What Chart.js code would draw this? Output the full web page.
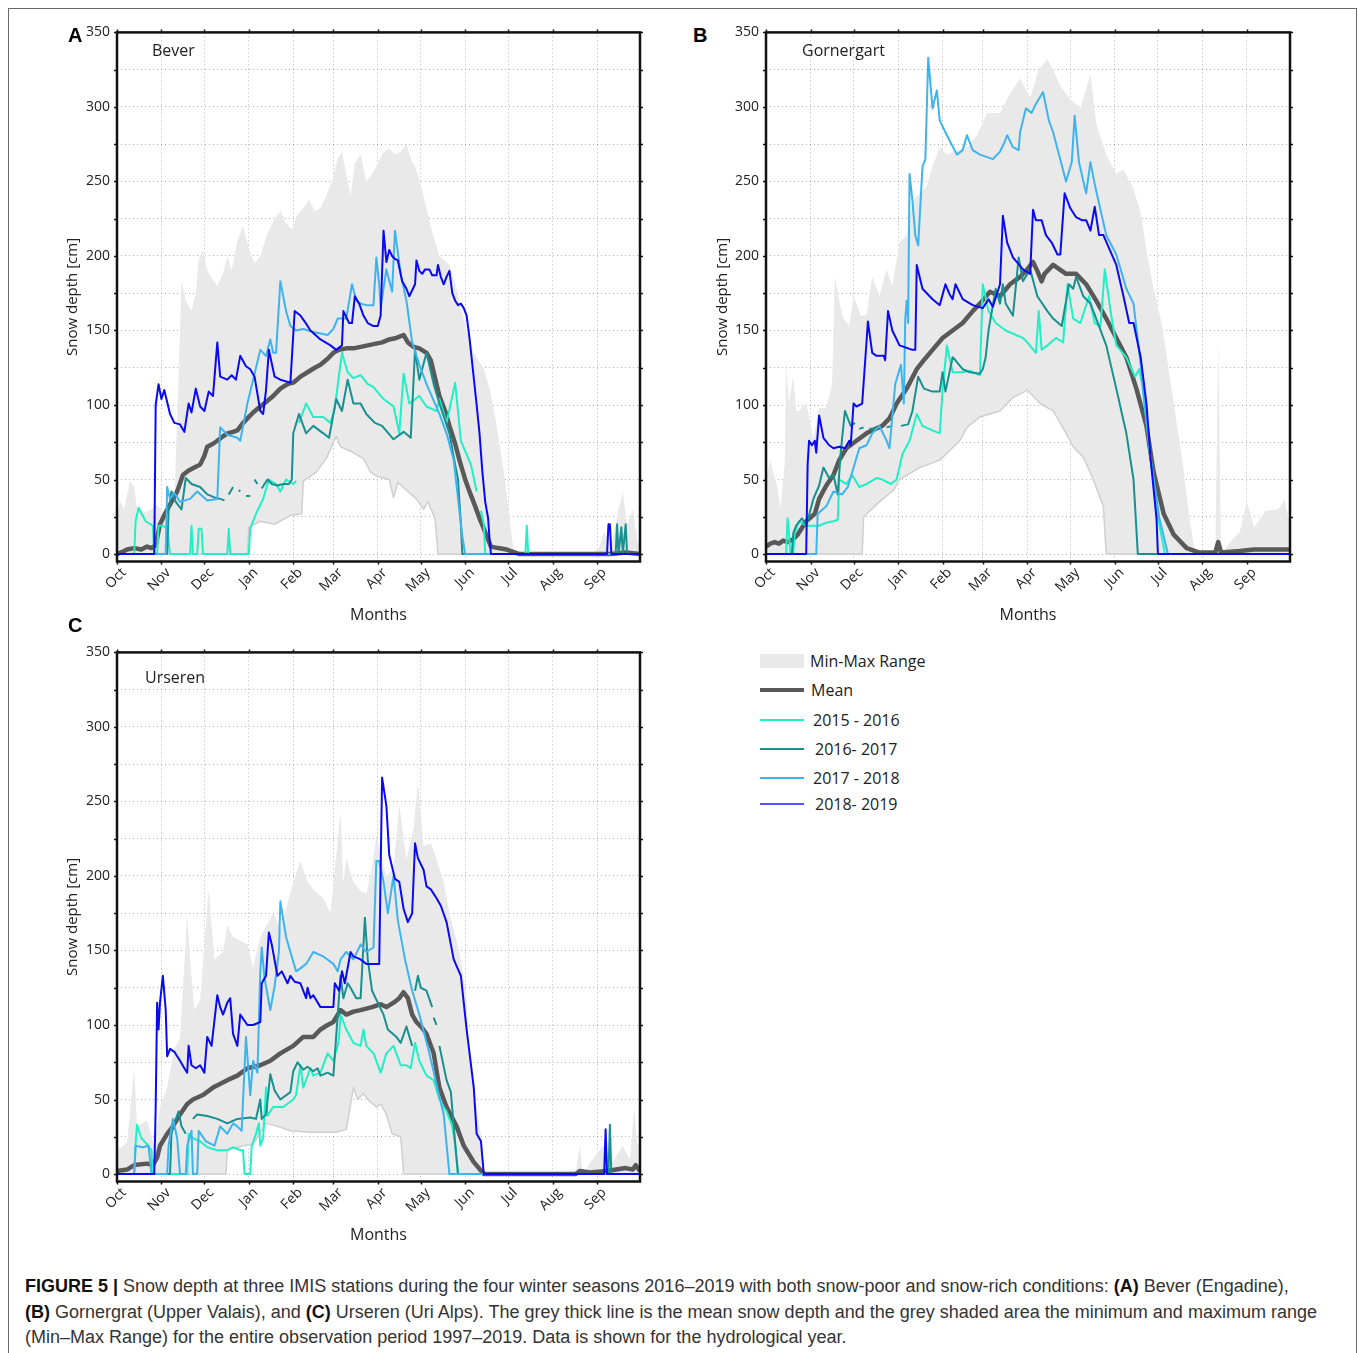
<!DOCTYPE html>
<html lang="en">
<head>
<meta charset="UTF-8">
<title>Snow depth at three IMIS stations</title>
<style>
  body { margin: 0; background: #fff; }
  #page { position: relative; width: 1358px; height: 1353px; overflow: hidden; font-family: "Open Sans", sans-serif; color: #222; }
  .frame { position: absolute; left: 8px; top: 8px; width: 1347px; height: 1370px; border: 1px solid #6a6a6a; }
  .panel { position: absolute; width: 600px; height: 613px; }
  .letter { position: absolute; font: bold 20px "Liberation Sans", Arial, sans-serif; color: #000; }
  .station { position: absolute; font-size: 16px; color: #222; }
  .legend { position: absolute; left: 760px; top: 648px; font-size: 16px; }
  .legend div { position: relative; height: 29px; }
  .legend span.sw { position: absolute; left: 0; width: 44px; }
  .legend span.tx { position: absolute; top: 2px; white-space: nowrap; }
  .caption { position: absolute; left: 25px; top: 1274px; font: 18px "Liberation Sans Narrow", "Arial Narrow", sans-serif; line-height: 25.5px; color: #333; white-space: nowrap; }
  .caption b { color: #111; }
</style>
</head>
<body>
<div id="page">
  <div class="frame"></div>

  <div class="panel" style="left:60px; top:17px;"><canvas id="chartA" width="600" height="613"></canvas></div>
  <div class="panel" style="left:710px; top:17px;"><canvas id="chartB" width="600" height="613"></canvas></div>
  <div class="panel" style="left:60px; top:637px;"><canvas id="chartC" width="600" height="613"></canvas></div>

  <div class="letter" style="left:68px; top:24px;">A</div>
  <div class="letter" style="left:693px; top:24px;">B</div>
  <div class="letter" style="left:68px; top:614px;">C</div>

  <div class="station" style="left:152px; top:39px;">Bever</div>
  <div class="station" style="left:802px; top:39px;">Gornergart</div>
  <div class="station" style="left:145px; top:666px;">Urseren</div>

  <div class="legend">
    <div><span class="sw" style="top:6px; height:14px; background:#e9e9e9;"></span><span class="tx" style="left:50px;">Min-Max Range</span></div>
    <div><span class="sw" style="top:11px; height:4px; background:#595959;"></span><span class="tx" style="left:51px;">Mean</span></div>
    <div style="top:1px;"><span class="sw" style="top:12px; height:2px; background:#1ff0c6;"></span><span class="tx" style="left:53px;">2015 - 2016</span></div>
    <div style="top:1px;"><span class="sw" style="top:12px; height:2px; background:#17908f;"></span><span class="tx" style="left:55px;">2016- 2017</span></div>
    <div style="top:1px;"><span class="sw" style="top:12px; height:2px; background:#3fb3ee;"></span><span class="tx" style="left:53px;">2017 - 2018</span></div>
    <div style="top:-2px;"><span class="sw" style="top:12px; height:2px; background:#5555ff;"></span><span class="tx" style="left:55px;">2018- 2019</span></div>
  </div>

  <div class="caption">
    <b>FIGURE 5 |</b> Snow depth at three IMIS stations during the four winter seasons 2016–2019 with both snow-poor and snow-rich conditions: <b>(A)</b> Bever (Engadine),<br>
    <b>(B)</b> Gornergrat (Upper Valais), and <b>(C)</b> Urseren (Uri Alps). The grey thick line is the mean snow depth and the grey shaded area the minimum and maximum range<br>
    (Min–Max Range) for the entire observation period 1997–2019. Data is shown for the hydrological year.
  </div>
</div>

<script src="https://cdn.jsdelivr.net/npm/chart.js"></script>
<script>
// x = day of the hydrological year (0 = 1 Oct), y = snow depth in cm
const monthDays = [0, 31, 61, 92, 123, 151, 182, 212, 243, 273, 304, 335];
const monthLabels = ['Oct', 'Nov', 'Dec', 'Jan', 'Feb', 'Mar', 'Apr', 'May', 'Jun', 'Jul', 'Aug', 'Sep'];
const depthTicks = [0, 25, 50, 75, 100, 125, 150, 175, 200, 225, 250, 275, 300, 325, 350];
const seasonLabels = ['2015 - 2016', '2016- 2017', '2017 - 2018', '2018- 2019'];

// ---- A: Bever ----
const beverMax = [[0,25],[2,36],[5,30],[9,49],[12,45],[14,30],[20,28],[24,30],[28,33],[32,28],[36,32],[40,35],[43,120],[45,183],[48,170],[52,163],[55,175],[57,198],[60,204],[63,190],[66,185],[70,180],[74,188],[77,200],[80,190],[84,210],[88,220],[92,205],[96,195],[100,200],[105,215],[110,225],[114,230],[118,222],[122,218],[126,228],[130,232],[134,238],[138,230],[142,232],[146,240],[150,250],[154,265],[157,270],[160,255],[163,240],[166,262],[170,268],[174,250],[178,255],[182,262],[186,270],[190,272],[194,268],[198,270],[202,275],[205,265],[208,260],[212,248],[216,232],[220,216],[225,200],[232,194],[237,178],[244,150],[249,135],[256,124],[260,111],[265,86],[270,55],[274,24],[277,0],[330,0],[336,3],[340,15],[345,5],[350,30],[353,42],[356,20],[360,30],[363,10],[365,5]];
const beverMin = [[0,0],[91,0],[92,18],[100,22],[110,20],[121,26],[129,27],[130,49],[139,55],[146,64],[153,79],[156,72],[163,69],[172,64],[177,55],[182,52],[190,50],[193,38],[196,48],[203,42],[209,37],[214,30],[217,35],[222,24],[224,0],[365,0]];
const beverMean = [[0,0],[5,2],[7,3],[12,4],[17,3],[21,5],[24,4],[27,6],[30,20],[34,28],[38,35],[42,42],[46,53],[50,56],[54,58],[58,60],[61,66],[63,72],[67,74],[70,76],[74,79],[77,81],[81,82],[84,83],[88,88],[91,91],[95,95],[100,99],[104,102],[109,106],[114,111],[119,114],[123,115],[128,119],[133,122],[138,125],[142,127],[147,131],[151,135],[155,137],[160,138],[165,138],[170,139],[175,140],[180,141],[185,142],[190,144],[195,145],[200,147],[203,142],[207,139],[211,138],[216,135],[219,130],[221,122],[225,106],[229,96],[232,86],[236,74],[239,63],[243,50],[246,42],[250,32],[253,24],[256,17],[258,12],[261,5],[266,4],[272,3],[278,1],[281,0],[345,0],[355,1],[365,0]];
const beverS1516 = [[0,0],[12,0],[13,22],[15,31],[20,22],[25,19],[26,0],[28,0],[29,19],[32,19],[35,17],[37,0],[51,0],[52,19],[53,0],[56,0],[57,17],[59,17],[60,0],[77,0],[78,17],[79,0],[92,0],[93,17],[97,27],[102,37],[106,50],[111,47],[114,42],[118,50],[123,47],[125,49],[125.5,null],[127,88],[132,101],[137,92],[144,92],[149,88],[152,98],[157,135],[161,122],[165,118],[170,120],[175,114],[179,112],[186,104],[193,99],[197,81],[200,121],[204,101],[211,106],[216,99],[223,96],[225,104],[230,88],[236,115],[240,76],[247,60],[251,42],[252,null],[254,29],[256,20],[257,0],[285,0],[286,19],[287,0],[365,0]];
const beverS1617 = [[0,0],[35,0],[36,29],[38,42],[41,35],[45,30],[48,51],[52,47],[58,45],[63,40],[68,38],[72,37],[75,36],[76,null],[78,40],[81,45],[82,null],[85,42],[86,43],[87,null],[90,39],[93,39],[94,null],[96,50],[98,47],[99,null],[101,44],[105,50],[108,47],[112,46],[116,47],[120,47],[122,50],[123,81],[127,94],[132,81],[137,86],[144,81],[148,78],[153,104],[157,96],[161,117],[165,101],[170,101],[174,94],[180,88],[185,86],[193,77],[200,82],[205,78],[208,137],[211,117],[216,135],[221,114],[225,101],[232,81],[236,60],[238,50],[240,20],[241,0],[348,0],[349,20],[350,0],[352,18],[353,0],[355,20],[356,0],[365,0]];
const beverS1718 = [[0,0],[34,0],[35,45],[37,37],[40,41],[44,35],[51,37],[56,42],[63,36],[70,37],[72,85],[77,80],[84,78],[86,76],[91,101],[96,121],[100,137],[104,133],[107,144],[109,135],[111,135],[114,183],[118,163],[121,153],[125,150],[130,151],[137,149],[147,147],[151,151],[154,158],[160,158],[164,181],[167,170],[170,168],[174,167],[179,167],[181,199],[183,181],[184,165],[188,191],[192,176],[194,217],[198,188],[202,170],[206,142],[211,127],[216,114],[225,94],[230,81],[235,63],[238,37],[241,12],[243,0],[365,0]];
const beverS1819 = [[0,0],[26,0],[27,100],[29,114],[31,104],[33,110],[37,94],[40,88],[44,87],[47,82],[50,101],[52,95],[55,111],[58,99],[61,96],[64,109],[67,106],[70,142],[72,119],[77,117],[80,120],[83,117],[86,133],[90,126],[93,124],[96,119],[100,96],[102,94],[104,110],[106,137],[110,119],[114,117],[121,115],[124,163],[128,160],[131,156],[135,150],[142,144],[149,140],[153,137],[157,140],[158,163],[162,155],[164,155],[166,173],[169,168],[172,160],[175,155],[179,153],[182,153],[184,160],[186,217],[188,196],[190,204],[192,200],[194,198],[196,197],[199,183],[202,178],[204,173],[206,177],[208,181],[209,197],[211,190],[213,188],[215,191],[218,191],[220,187],[223,187],[224,194],[226,186],[228,181],[230,186],[232,190],[234,175],[236,170],[238,167],[240,168],[242,165],[244,160],[246,145],[248,127],[251,100],[253,81],[255,55],[257,35],[259,24],[260,10],[261,0],[342,0],[343,20],[344,20],[345,0],[365,0]];

// ---- B: Gornergrat ----
const gornMax = [[0,50],[3,63],[5,55],[8,45],[10,30],[13,60],[14,127],[16,101],[19,120],[21,96],[23,96],[28,101],[33,78],[37,98],[42,98],[46,114],[48,186],[51,170],[54,158],[58,153],[61,173],[66,160],[70,160],[74,186],[79,173],[84,191],[88,180],[93,209],[98,214],[102,237],[107,242],[112,247],[116,260],[121,273],[126,268],[130,270],[140,273],[147,281],[154,296],[163,296],[170,309],[177,319],[184,306],[190,325],[196,332],[200,325],[205,314],[212,305],[219,299],[226,322],[230,289],[237,268],[244,255],[249,258],[256,245],[261,229],[265,204],[270,178],[276,153],[284,101],[290,63],[295,24],[299,0],[313,0],[315,145],[317,0],[325,10],[330,15],[335,35],[340,18],[348,29],[357,30],[361,37],[365,20]];
const gornMin = [[0,0],[67,0],[68,25],[79,35],[89,43],[93,50],[107,58],[121,63],[135,76],[140,85],[149,92],[163,96],[172,105],[182,110],[191,101],[200,96],[205,88],[214,72],[221,65],[228,50],[235,32],[237,0],[365,0]];
const gornMean = [[0,5],[3,7],[6,8],[9,7],[12,9],[15,8],[19,10],[22,13],[28,22],[34,27],[37,37],[42,46],[47,53],[51,63],[56,71],[63,76],[70,81],[74,83],[81,86],[86,91],[91,101],[98,111],[105,124],[109,129],[116,137],[123,145],[130,150],[137,155],[144,163],[149,168],[156,176],[163,173],[170,181],[177,186],[182,191],[186,196],[189,190],[192,183],[194,188],[200,194],[209,188],[216,188],[223,181],[230,170],[237,158],[244,145],[251,132],[258,111],[265,86],[270,55],[277,27],[284,13],[293,4],[302,1],[313,1],[315,8],[317,1],[330,2],[340,3],[350,3],[365,3]];
const gornS1516 = [[0,0],[14,0],[15,24],[16,14],[17,0],[19,0],[20,14],[23,22],[28,19],[37,19],[42,21],[47,22],[50,23],[51,50],[56,47],[60,53],[65,45],[70,47],[77,51],[81,50],[87,47],[91,50],[95,67],[100,76],[105,94],[109,86],[116,83],[121,81],[123,110],[126,140],[130,122],[137,122],[142,123],[149,120],[151,181],[155,163],[160,155],[167,150],[174,147],[179,145],[182,142],[188,135],[190,163],[192,137],[196,140],[202,145],[207,142],[210,181],[214,158],[219,155],[225,173],[229,155],[233,153],[236,191],[240,163],[244,140],[251,132],[257,119],[260,124],[262,114],[266,81],[272,29],[278,0],[365,0]];
const gornS1617 = [[0,0],[18,0],[19,14],[21,19],[25,24],[28,19],[33,37],[37,46],[40,58],[44,51],[47,53],[50,40],[52,68],[55,96],[59,86],[62,88],[63,null],[65,84],[68,85],[69,null],[72,84],[77,84],[78,null],[84,85],[88,86],[89,null],[94,86],[99,87],[102,96],[106,119],[110,111],[116,109],[121,109],[123,122],[125,109],[130,132],[132,130],[137,124],[142,122],[149,121],[151,124],[153,132],[155,150],[160,178],[163,168],[165,181],[167,168],[172,160],[176,199],[179,183],[184,191],[189,173],[196,163],[200,158],[206,153],[211,181],[214,178],[216,186],[221,173],[226,168],[230,158],[237,140],[244,111],[251,81],[256,50],[259,0],[365,0]];
const gornS1718 = [[0,0],[35,0],[36,27],[42,32],[47,42],[53,40],[57,45],[65,71],[70,73],[74,81],[79,86],[84,76],[86,71],[90,114],[94,127],[96,101],[97,158],[98,170],[99,155],[100,255],[102,237],[104,214],[106,207],[109,260],[111,265],[113,333],[116,299],[119,311],[121,291],[126,281],[133,268],[137,271],[140,281],[144,271],[149,268],[158,265],[163,270],[166,276],[168,281],[172,273],[176,271],[177,283],[181,299],[185,296],[188,302],[193,310],[197,291],[200,283],[209,250],[213,263],[215,294],[218,263],[223,242],[226,263],[229,248],[237,214],[244,201],[251,178],[256,168],[261,127],[267,71],[274,24],[280,0],[365,0]];
const gornS1819 = [[0,0],[28,0],[29,60],[30,76],[32,73],[34,76],[35,68],[37,93],[40,78],[44,73],[47,71],[51,72],[55,71],[58,76],[59,73],[61,101],[63,99],[67,101],[71,156],[74,135],[77,133],[82,133],[83,130],[85,163],[88,150],[93,140],[102,137],[104,137],[105,194],[109,178],[116,171],[121,167],[125,181],[128,174],[130,171],[132,181],[137,171],[144,167],[151,165],[155,171],[158,166],[163,181],[165,227],[168,209],[172,199],[179,191],[184,188],[186,231],[188,224],[192,224],[195,214],[199,209],[203,201],[205,201],[208,242],[212,232],[216,226],[220,224],[223,224],[226,217],[229,233],[232,214],[235,214],[244,194],[249,173],[253,155],[256,155],[261,132],[265,101],[268,63],[272,24],[273,0],[365,0]];

// ---- C: Urseren ----
const ursMax = [[0,16],[7,21],[12,71],[14,32],[21,36],[26,19],[30,45],[35,58],[40,84],[44,91],[49,175],[51,144],[54,110],[58,117],[61,154],[64,191],[68,144],[74,149],[77,167],[81,159],[91,154],[95,139],[100,159],[109,175],[114,164],[123,196],[128,210],[133,196],[137,191],[144,185],[149,175],[156,243],[158,196],[160,212],[165,196],[170,190],[174,188],[178,206],[181,227],[188,200],[193,205],[197,248],[202,211],[207,232],[210,263],[214,220],[219,222],[223,211],[228,196],[232,175],[239,149],[244,118],[246,76],[251,45],[255,20],[256,0],[320,0],[323,19],[325,0],[332,10],[339,19],[346,8],[353,19],[358,10],[361,45],[363,20],[365,19]];
const ursMin = [[0,0],[76,0],[77,16],[88,19],[95,20],[104,34],[112,32],[121,29],[135,28],[153,28],[160,30],[165,58],[168,50],[172,54],[176,49],[181,45],[184,47],[188,40],[192,27],[198,25],[200,0],[365,0]];
const ursMean = [[0,2],[7,3],[12,6],[21,7],[25,6],[28,11],[30,19],[35,27],[39,32],[44,40],[49,47],[53,50],[60,53],[67,58],[77,63],[84,66],[91,71],[100,73],[107,76],[114,81],[123,86],[130,92],[137,92],[142,97],[147,100],[151,102],[156,110],[160,107],[165,109],[170,110],[174,111],[178,112],[184,114],[188,112],[193,115],[197,118],[200,122],[203,118],[206,107],[209,102],[213,98],[216,94],[221,81],[225,58],[230,45],[237,32],[242,19],[249,8],[256,0],[320,0],[323,2],[330,1],[342,2],[355,4],[360,3],[362,6],[365,2]];
const ursS1516 = [[0,0],[12,0],[13,21],[14,33],[17,24],[21,20],[24,16],[25,0],[49,0],[50,27],[53,24],[58,22],[63,18],[70,16],[77,16],[81,18],[86,16],[88,16],[89,0],[93,0],[94,19],[97,27],[99,34],[100,19],[102,24],[104,58],[105,39],[109,45],[116,45],[123,50],[125,53],[128,73],[130,58],[135,71],[137,66],[142,68],[147,81],[151,76],[154,86],[155,92],[156,107],[160,97],[165,88],[170,86],[172,97],[174,86],[179,81],[184,68],[188,81],[193,86],[198,73],[202,73],[205,71],[208,88],[211,76],[216,66],[221,63],[225,50],[230,42],[234,32],[236,19],[238,0],[365,0]];
const ursS1617 = [[0,0],[37,0],[38,27],[40,34],[43,42],[45,32],[48,27],[49,null],[53,37],[56,40],[63,39],[70,37],[77,34],[84,37],[93,38],[97,37],[100,50],[101,37],[104,40],[106,58],[107,67],[110,56],[114,50],[121,55],[123,69],[126,75],[130,70],[133,72],[137,69],[140,71],[142,66],[147,68],[151,66],[156,133],[158,118],[161,128],[163,125],[167,118],[170,118],[173,172],[175,144],[178,123],[182,115],[186,107],[189,97],[195,92],[198,88],[202,99],[206,86],[207,null],[208,123],[210,133],[212,125],[216,123],[220,112],[220.5,null],[221,105],[223,100],[224,null],[225,86],[230,63],[233,55],[236,21],[238,0],[343,0],[344,33],[345,0],[365,0]];
const ursS1718 = [[0,0],[12,0],[13,19],[18,18],[22,19],[24,0],[35,0],[36,19],[39,37],[42,24],[44,0],[48,0],[49,19],[52,29],[53,0],[56,0],[57,29],[62,22],[68,19],[72,32],[77,27],[81,34],[84,32],[87,29],[89,71],[90,92],[93,53],[95,76],[98,68],[100,136],[101,152],[103,131],[107,110],[110,126],[113,149],[114,183],[118,159],[121,149],[125,136],[128,138],[132,141],[137,149],[144,146],[151,141],[154,136],[156,144],[160,149],[165,144],[170,154],[174,149],[179,152],[181,210],[183,210],[186,196],[189,175],[193,200],[196,170],[201,144],[206,123],[211,107],[218,81],[223,60],[228,40],[232,0],[365,0]];
const ursS1819 = [[0,0],[26,0],[27,45],[28,115],[29,97],[30,115],[32,133],[34,110],[35,79],[37,84],[40,82],[44,76],[47,71],[49,68],[50,86],[52,73],[55,71],[58,73],[61,68],[63,92],[66,86],[70,120],[72,112],[74,107],[77,115],[79,118],[81,94],[84,86],[86,107],[91,100],[95,100],[100,102],[101,128],[104,133],[106,162],[108,154],[112,133],[115,136],[119,128],[121,133],[124,129],[128,128],[132,118],[133,125],[135,118],[137,120],[142,112],[151,112],[152,128],[155,123],[157,136],[159,128],[163,149],[165,146],[170,144],[174,141],[179,141],[183,141],[185,266],[188,247],[190,214],[194,198],[197,196],[200,178],[203,169],[206,175],[208,222],[210,212],[214,204],[216,193],[219,191],[223,185],[226,180],[230,169],[235,144],[240,133],[244,97],[249,58],[251,27],[254,22],[256,0],[340,0],[341,30],[342,0],[365,0]];

const seasonColors = ['#1ff0c6', '#17908f', '#3fb3ee', '#0a0af0'];

function pts(arr) {
  return arr.map(p => ({ x: p[0], y: p[1] }));
}

// box around the plot with small outward ticks
const frameBox = {
  id: 'frameBox',
  afterDraw(chart) {
    const { ctx, chartArea: a, scales } = chart;
    ctx.save();
    ctx.strokeStyle = '#111';
    ctx.lineWidth = 1.5;
    depthTicks.forEach(v => {
      const y = Math.round(scales.y.getPixelForValue(v)) + 0.5;
      ctx.beginPath();
      ctx.moveTo(a.left - 3, y); ctx.lineTo(a.left, y);
      ctx.moveTo(a.right, y); ctx.lineTo(a.right + 3, y);
      ctx.stroke();
    });
    monthDays.forEach(d => {
      const x = Math.round(scales.x.getPixelForValue(d)) + 0.5;
      ctx.beginPath();
      ctx.moveTo(x, a.top - 3); ctx.lineTo(x, a.top);
      ctx.moveTo(x, a.bottom); ctx.lineTo(x, a.bottom + 3);
      ctx.stroke();
    });
    ctx.lineWidth = 2.5;
    ctx.strokeRect(a.left, a.top, a.right - a.left, a.bottom - a.top);
    ctx.restore();
  }
};

function makePanel(id, maxS, minS, meanS, seasons, yWidth) {
  const datasets = [
    { label: 'Min-Max Range', data: pts(maxS), borderWidth: 0, backgroundColor: '#e9e9e9', fill: '+1', order: 10 },
    { label: 'Min', data: pts(minS), borderColor: '#cfcfcf', borderWidth: 1.5, fill: false, order: 9 },
    { label: 'Mean', data: pts(meanS), borderColor: '#595959', borderWidth: 4.5, fill: false, order: 6 }
  ];
  seasons.forEach((s, i) => {
    datasets.push({ label: seasonLabels[i], data: pts(s), borderColor: seasonColors[i], borderWidth: 2, fill: false, spanGaps: false, order: 5 - i });
  });

  new Chart(document.getElementById(id), {
    type: 'line',
    data: { datasets: datasets },
    options: {
      responsive: false,
      animation: false,
      devicePixelRatio: 1,
      layout: { padding: { top: 8, right: 20, left: 0, bottom: 0 } },
      elements: { point: { radius: 0 }, line: { tension: 0, borderJoinStyle: 'round' } },
      plugins: { legend: { display: false }, tooltip: { enabled: false } },
      scales: {
        x: {
          type: 'linear', min: 0, max: 365,
          afterBuildTicks: axis => { axis.ticks = monthDays.map(v => ({ value: v })); },
          afterFit: axis => { axis.height = 68.5; },
          ticks: {
            autoSkip: false, minRotation: 45, maxRotation: 45, padding: 3, labelOffset: 7,
            color: '#222', font: { family: 'Open Sans', size: 14 },
            callback: (v, i) => monthLabels[i]
          },
          grid: { color: 'rgba(0,0,0,0.3)', lineWidth: 1, drawTicks: false },
          border: { display: false, dash: [1, 3] },
          title: { display: true, text: 'Months', color: '#222', font: { family: 'Open Sans', size: 16 }, padding: { top: 0, bottom: 5 } }
        },
        y: {
          min: -5, max: 350,
          afterBuildTicks: axis => { axis.ticks = depthTicks.map(v => ({ value: v })); },
          afterFit: axis => { axis.width = yWidth; },
          ticks: {
            padding: 7, color: '#222', font: { family: 'Open Sans', size: 14 },
            callback: v => (v % 50 === 0 ? v : '')
          },
          grid: { color: 'rgba(0,0,0,0.3)', lineWidth: 1, drawTicks: false },
          border: { display: false, dash: [1, 3] },
          title: { display: true, text: 'Snow depth [cm]', color: '#222', font: { family: 'Open Sans', size: 15 }, padding: { top: 4, bottom: 0 } }
        }
      }
    },
    plugins: [frameBox]
  });
}

makePanel('chartA', beverMax, beverMin, beverMean, [beverS1516, beverS1617, beverS1718, beverS1819], 57);
makePanel('chartB', gornMax, gornMin, gornMean, [gornS1516, gornS1617, gornS1718, gornS1819], 56);
makePanel('chartC', ursMax, ursMin, ursMean, [ursS1516, ursS1617, ursS1718, ursS1819], 57);
</script>
</body>
</html>
